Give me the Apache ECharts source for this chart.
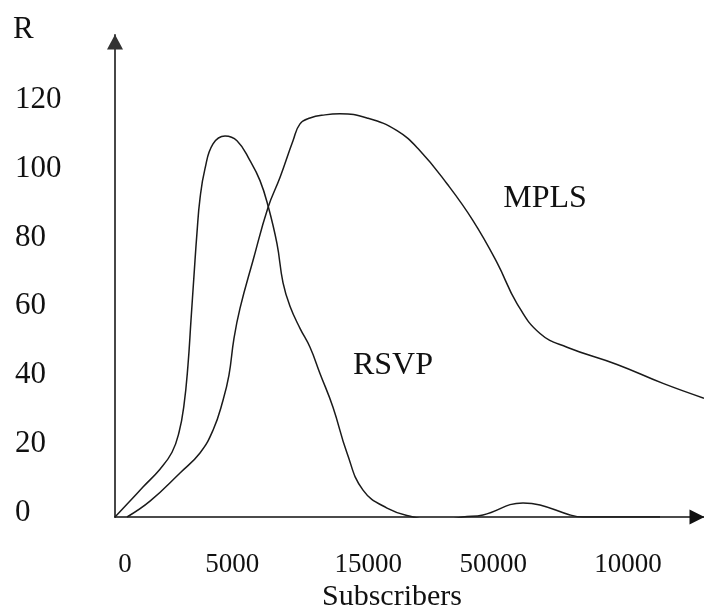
<!DOCTYPE html>
<html>
<head>
<meta charset="utf-8">
<script src="https://cdn.jsdelivr.net/npm/echarts@6/dist/echarts.min.js"></script>
<style>
  html, body { margin: 0; padding: 0; background: #fff; }
  #chart { width: 704px; height: 608px; }
</style>
</head>
<body>
<div id="chart"></div>
<script>
// Horizontal scale runs 0..100 across the axis; subscriber tick labels sit at uneven spots on it.
const xTickPositions = [1.7, 19.9, 43.0, 64.2, 87.1];
const xTickLabels = ['0', '5000', '15000', '50000', '10000'];
const yTickValues = [0, 20, 40, 60, 80, 100, 120];
// the R labels sit slightly above their levels
const yLabelLift = 1.2;

// [position, R]
const rsvp = [
  [0, 0], [4.75, 8.7], [7.64, 13.9], [9.68, 18.8], [10.87, 24.6], [11.71, 32.5],
  [12.39, 44.1], [12.90, 57.1], [13.41, 70.1], [13.92, 82.6], [14.43, 92.5],
  [15.28, 101.2], [16.64, 108.4], [18.68, 110.7], [20.71, 109.3], [22.92, 103.5],
  [24.62, 97.7], [25.98, 90.4], [27.50, 79.4], [28.52, 68.1], [29.71, 61.2],
  [31.41, 54.8], [33.11, 49.3], [34.80, 41.7], [37.01, 31.9], [39.39, 18.6],
  [42.11, 7.8], [46.18, 2.6], [50.59, 0], [54.67, -1.2], [59.08, 0], [62.48, 0.6],
  [69.27, 4.1], [72.16, 3.5], [77.25, 0.6], [79.46, 0], [92.53, 0]
];
const mpls = [
  [2.04, 0], [5.94, 4.6], [11.04, 12.8], [14.43, 18.6], [16.64, 25.2], [18.34, 33.9],
  [19.35, 41.2], [20.20, 51.9], [21.22, 60.6], [23.43, 74.5], [25.98, 89.9],
  [28.01, 98.6], [30.22, 109.3], [31.41, 114.2], [33.11, 115.9], [35.65, 116.8],
  [38.20, 117.1], [42.78, 115.9], [47.88, 112.2], [51.78, 106.4], [56.37, 96.8],
  [60.78, 86.1], [64.86, 73.9], [68.25, 62.0], [72.16, 53.3], [76.74, 49.3],
  [85.23, 44.3], [93.04, 38.8], [100, 34.5]
];

const serif = '"Liberation Serif", "Times New Roman", serif';
const ink = '#111';

const chart = echarts.init(document.getElementById('chart'), null, { renderer: 'canvas' });

const curveStyle = { color: '#1a1a1a', width: 1.5 };

chart.setOption({
  animation: false,
  backgroundColor: '#fff',
  grid: { left: 115, right: 0, top: 35, bottom: 91 },
  xAxis: {
    type: 'value',
    min: 0,
    max: 100,
    splitLine: { show: false },
    axisTick: { show: false },
    axisLine: {
      show: true,
      symbol: ['none', 'triangle'],
      symbolSize: [15, 15],
      symbolOffset: [0, -7],
      lineStyle: { color: '#111', width: 1.6 }
    },
    axisLabel: {
      customValues: xTickPositions,
      formatter: function (v) {
        const i = xTickPositions.indexOf(v);
        return i >= 0 ? xTickLabels[i] : '';
      },
      fontFamily: serif,
      fontSize: 27,
      color: ink,
      margin: 34
    }
  },
  yAxis: {
    type: 'value',
    min: 0,
    max: 140,
    interval: 20,
    splitLine: { show: false },
    axisTick: { show: false },
    axisLine: {
      show: true,
      onZero: false,
      symbol: ['none', 'triangle'],
      symbolSize: [16, 15],
      symbolOffset: [0, -7],
      lineStyle: { color: '#333', width: 1.8 }
    },
    axisLabel: {
      customValues: yTickValues.map(function (v) { return v + yLabelLift; }),
      formatter: function (v) { return String(Math.round(v - yLabelLift)); },
      fontFamily: serif,
      fontSize: 31,
      color: ink,
      align: 'left',
      margin: 100
    }
  },
  graphic: [
    { type: 'text', left: 13, top: 14, style: { text: 'R', font: '31px ' + serif, fill: ink } },
    { type: 'text', x: 392, y: 597, style: { text: 'Subscribers', font: '30px ' + serif, fill: ink, align: 'center', verticalAlign: 'middle' } },
    { type: 'text', x: 545, y: 199, style: { text: 'MPLS', font: '32px ' + serif, fill: ink, align: 'center', verticalAlign: 'middle' } },
    { type: 'text', x: 393, y: 366, style: { text: 'RSVP', font: '32px ' + serif, fill: ink, align: 'center', verticalAlign: 'middle' } }
  ],
  series: [
    {
      name: 'RSVP',
      type: 'line',
      data: rsvp,
      smooth: 0.45,
      showSymbol: false,
      lineStyle: curveStyle,
      z: 3
    },
    {
      name: 'MPLS',
      type: 'line',
      data: mpls,
      smooth: 0.45,
      showSymbol: false,
      lineStyle: curveStyle,
      z: 3
    }
  ]
});
</script>
</body>
</html>
